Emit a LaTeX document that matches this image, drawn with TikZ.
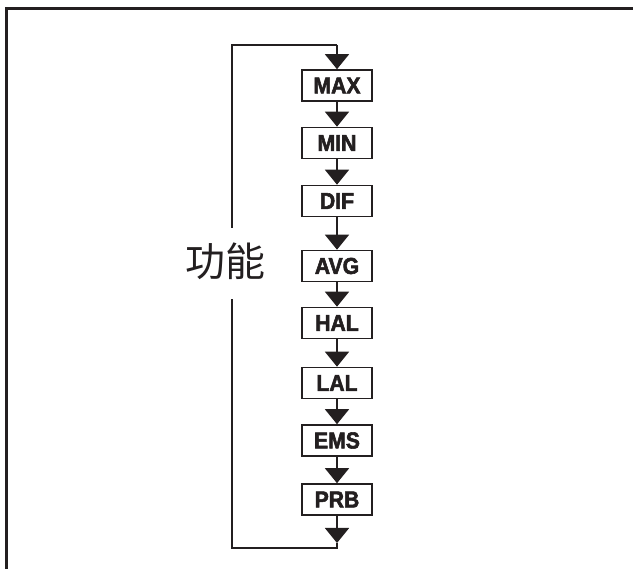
\documentclass[tikz,border=0pt]{standalone}
\usepackage{fontspec}
\setmainfont{Liberation Sans}
\newfontfamily\cjk{Noto Sans CJK SC}
\newfontfamily\boxfont{Liberation Sans Bold}[FakeBold=2.4, FakeStretch=0.92]
\usetikzlibrary{arrows.meta}
\definecolor{ink}{HTML}{231F20}
\tikzset{
  fbox/.style={draw=ink, line width=1.6pt, fill=white, minimum width=70pt, minimum height=31pt, inner sep=0pt,
    font=\boxfont\fontsize{23}{23}\selectfont, text=ink},
  conn/.style={draw=ink, line width=1.6pt},
  arr/.style={conn, -{Triangle[width=24pt,length=15pt]}},
}
\begin{document}
\begin{tikzpicture}[x=1pt,y=-1pt]
\useasboundingbox (0,0) rectangle (633,569);
% frame
\draw[ink, line width=3pt] (6.5,569) -- (6.5,8.5) -- (633,8.5);
% boxes
\node[fbox] (max) at (337,85.5) {MAX};
\node[fbox] (min) at (337,143) {MIN};
\node[fbox] (dif) at (337,201) {DIF};
\node[fbox] (avg) at (337,266) {AVG};
\node[fbox] (hal) at (337,323) {HAL};
\node[fbox] (lal) at (337,383) {LAL};
\node[fbox] (ems) at (337,440.5) {EMS};
\node[fbox] (prb) at (337,499.5) {PRB};
% label
\node[font=\cjk\fontsize{40}{40}\selectfont, text=ink, inner sep=0pt] (lbl) at (225,261) {功能};
% loop coordinates
\coordinate (lt) at (232,228);
\coordinate (tl) at (232,45);
\coordinate (tr) at (337,45);
\coordinate (lb) at (232,299);
\coordinate (bl) at (232,548);
\coordinate (br) at (337,548);
\coordinate (tip) at (337,543);
% connectors
\draw[conn] (lt) -- (tl) -- (tr);
\draw[arr] (tr) -- (max.north);
\draw[arr] (max.south) -- (min.north);
\draw[arr] (min.south) -- (dif.north);
\draw[arr] (dif.south) -- (avg.north);
\draw[arr] (avg.south) -- (hal.north);
\draw[arr] (hal.south) -- (lal.north);
\draw[arr] (lal.south) -- (ems.north);
\draw[arr] (ems.south) -- (prb.north);
\draw[arr] (prb.south) -- (tip);
\draw[conn] (tip) -- (br) -- (bl) -- (lb);
\end{tikzpicture}
\end{document}
